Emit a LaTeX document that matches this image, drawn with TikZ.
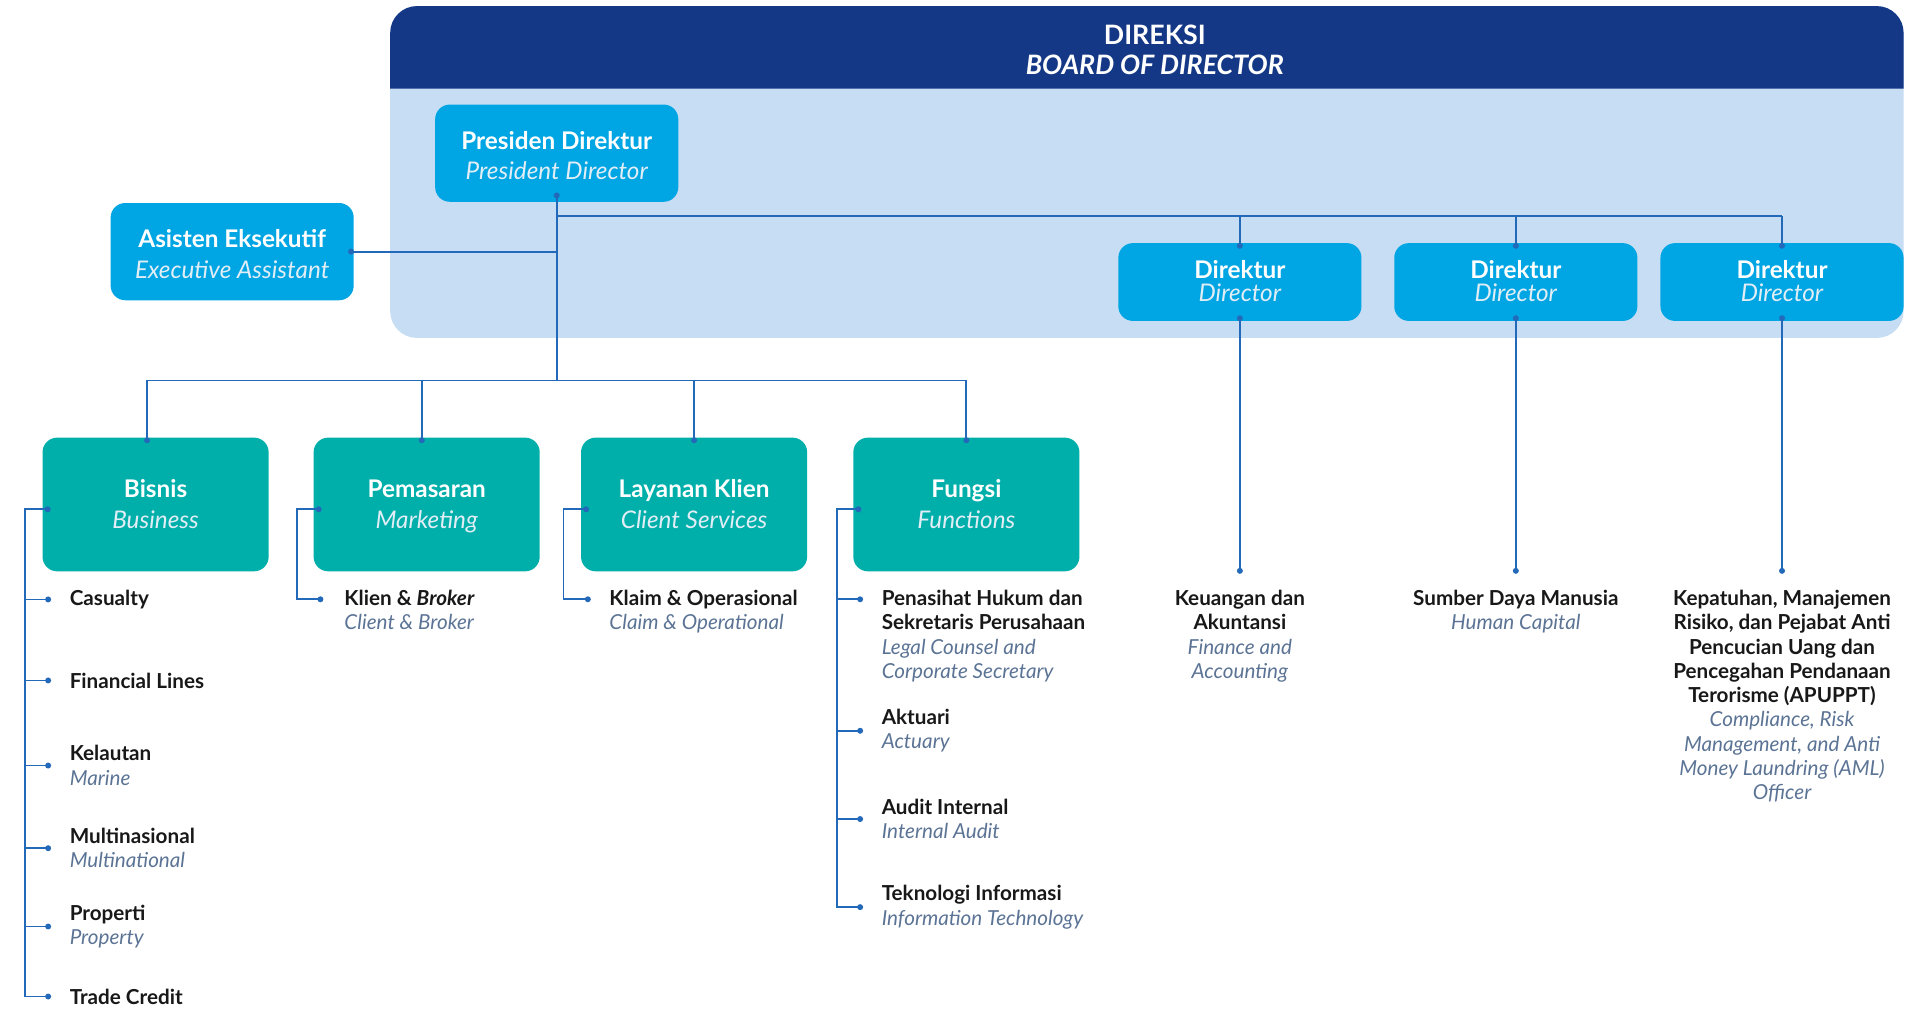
\documentclass[tikz,border=0pt]{standalone}
\usepackage{fontspec}
\setmainfont{Lato}
\usetikzlibrary{arrows.meta,positioning}

\definecolor{hdrblue}{RGB}{20,56,134}
\definecolor{panelblue}{RGB}{198,221,243}
\definecolor{cyanbox}{RGB}{0,165,227}
\definecolor{tealbox}{RGB}{0,175,170}
\definecolor{linkblue}{RGB}{35,105,185}
\definecolor{subtext}{RGB}{91,115,148}
\definecolor{boxsub}{RGB}{226,238,246}
\definecolor{itemtext}{RGB}{24,24,24}

\newcommand{\en}[1]{{\mdseries\itshape\color{subtext}#1}}
\newcommand{\boxtop}[2][8.7pt]{\rule{0pt}{#1}#2}
\newcommand{\boxen}[1]{{\mdseries\itshape\color{boxsub}\vphantom{Ag}#1}}

\tikzset{
  dirbox/.style={fill=cyanbox, rounded corners=6pt, text=white, align=center,
    inner sep=0pt, minimum width=100pt, minimum height=40pt,
    font=\fontsize{10}{12.5}\selectfont\bfseries},
  topbox/.style={dirbox, minimum height=32pt,
    font=\fontsize{10}{9.5}\selectfont\bfseries},
  unitbox/.style={dirbox, fill=tealbox, minimum width=93pt, minimum height=55pt},
  item/.style={anchor=north west, inner sep=0pt, align=left, text=itemtext,
    font=\fontsize{8.5}{10}\selectfont\bfseries},
  dept/.style={item, anchor=north, align=center},
  link/.style={draw=linkblue, line width=0.75pt},
  dot/.style={-{Circle[length=2.4pt]}},
  dots/.style={{Circle[length=2.4pt]}-{Circle[length=2.4pt]}}
}

\begin{document}
\begin{tikzpicture}[x=0.5pt, y=-0.5pt]
  \useasboundingbox (0,0) rectangle (1568,831.7);

  % board panel
  \fill[panelblue, rounded corners=11pt] (321,5) rectangle (1566,278);
  \fill[hdrblue] (321,73) {[rounded corners=11pt] -- (321,5) -- (1566,5)} -- (1566,73) -- cycle;
  \node[text=white, align=center, font=\fontsize{11}{12.5}\selectfont\bfseries]
    (board) at (950,41) {DIREKSI\\\textit{BOARD OF DIRECTOR}};

  % directors
  \node[dirbox] (PD) at (458,126) {\boxtop[11.2pt]{Presiden Direktur}\\\boxen{President Director}};
  \node[dirbox] (EA) at (191,207) {\boxtop[11.2pt]{Asisten Eksekutif}\\\boxen{Executive Assistant}};
  \foreach \n/\x in {D1/1020,D2/1247,D3/1466}
    \node[topbox] (\n) at (\x,232) {\boxtop{Direktur}\\\boxen{Director}};

  % units
  \node[unitbox] (B) at (128,415) {\boxtop{Bisnis}\\\boxen{Business}};
  \node[unitbox] (M) at (351,415) {\boxtop{Pemasaran}\\\boxen{Marketing}};
  \node[unitbox] (CS) at (571,415) {\boxtop{Layanan Klien}\\\boxen{Client Services}};
  \node[unitbox] (F) at (795,415) {\boxtop{Fungsi}\\\boxen{Functions}};

  % items
  \node[item] (b1) at (57,485) {Casualty};
  \node[item] (b2) at (57,553) {Financial Lines};
  \node[item] (b3) at (57,613) {Kelautan\\\en{Marine}};
  \node[item] (b4) at (57,681) {Multinasional\\\en{Multinational}};
  \node[item] (b5) at (57,744) {Properti\\\en{Property}};
  \node[item] (b6) at (57,813) {Trade Credit};
  \node[item] (m1) at (283,485) {Klien \& \textit{Broker}\\\en{Client \& Broker}};
  \node[item] (c1) at (501,485) {Klaim \& Operasional\\\en{Claim \& Operational}};
  \node[item] (f1) at (725,485) {Penasihat Hukum dan\\Sekretaris Perusahaan\\\en{Legal Counsel and}\\\en{Corporate Secretary}};
  \node[item] (f2) at (725,583) {Aktuari\\\en{Actuary}};
  \node[item] (f3) at (725,657) {Audit Internal\\\en{Internal Audit}};
  \node[item] (f4) at (725,728) {Teknologi Informasi\\\en{Information Technology}};

  \node[dept] (fin) at (1020,485) {Keuangan dan\\Akuntansi\\\en{Finance and}\\\en{Accounting}};
  \node[dept] (hc) at (1247,485) {Sumber Daya Manusia\\\en{Human Capital}};
  \node[dept] (aml) at (1466,485) {Kepatuhan, Manajemen\\Risiko, dan Pejabat Anti\\Pencucian Uang dan\\Pencegahan Pendanaan\\Terorisme (APUPPT)\\\en{Compliance, Risk}\\\en{Management, and Anti}\\\en{Money Laundring (AML)}\\\en{Officer}};

  % connectors
  \coordinate (highbus) at (0,178);
  \coordinate (lowbus) at (0,313);
  \coordinate (PD-b) at ([yshift=4pt]PD.south);
  \draw[link, {Circle[length=2.4pt]}-] (PD-b) -- (PD-b |- lowbus);
  \draw[link, dot] (PD-b |- EA.east) -- ([xshift=-2.5pt]EA.east);
  \draw[link] (PD-b |- highbus) -- (D3 |- highbus);
  \foreach \n in {D1,D2,D3}
    \draw[link, dot] (\n |- highbus) -- ([yshift=-2.5pt]\n.north);
  \draw[link, dots] ([yshift=2.5pt]D1.south) -- ([yshift=6.5pt]fin.north);
  \draw[link, dots] ([yshift=2.5pt]D2.south) -- ([yshift=6.5pt]hc.north);
  \draw[link, dots] ([yshift=2.5pt]D3.south) -- ([yshift=6.5pt]aml.north);

  \coordinate (B-t) at ([xshift=-3.5pt,yshift=-2.5pt]B.north);
  \coordinate (M-t) at ([xshift=-2pt,yshift=-2.5pt]M.north);
  \coordinate (CS-t) at ([yshift=-2.5pt]CS.north);
  \coordinate (F-t) at ([yshift=-2.5pt]F.north);
  \draw[link] (B-t |- lowbus) -- (F-t |- lowbus);
  \foreach \n in {B,M,CS,F}
    \draw[link, dot] (\n-t |- lowbus) -- (\n-t);

  \foreach \n in {B,M,CS,F}
    \coordinate (\n-l) at ([xshift=3.5pt,yshift=-2pt]\n.west);
  \foreach \i in {b1,b2,b3,b4,b5,b6,f2,f3,f4}
    \coordinate (\i-d) at ([xshift=-7.5pt]\i.west);
  \coordinate (f1-d) at ([xshift=-7.5pt,yshift=-4pt]f1.north west);
  \coordinate (m1-d) at ([xshift=-8.5pt,yshift=-4pt]m1.north west);
  \coordinate (c1-d) at ([xshift=-7.5pt,yshift=-4pt]c1.north west);

  \draw[link, dots] (B-l) -- ++(-10.5pt,0) |- (b6-d);
  \foreach \i in {b1,b2,b3,b4,b5}
    \draw[link, dot] ([xshift=-10.5pt]B-l |- \i-d) -- (\i-d);
  \draw[link, dots] (M-l) -- ++(-10pt,0) |- (m1-d);
  \draw[link, dots] (CS-l) -- ++(-10.5pt,0) |- (c1-d);
  \draw[link, dots] (F-l) -- ++(-10pt,0) |- (f4-d);
  \foreach \i in {f1,f2,f3}
    \draw[link, dot] ([xshift=-10pt]F-l |- \i-d) -- (\i-d);
\end{tikzpicture}
\end{document}
